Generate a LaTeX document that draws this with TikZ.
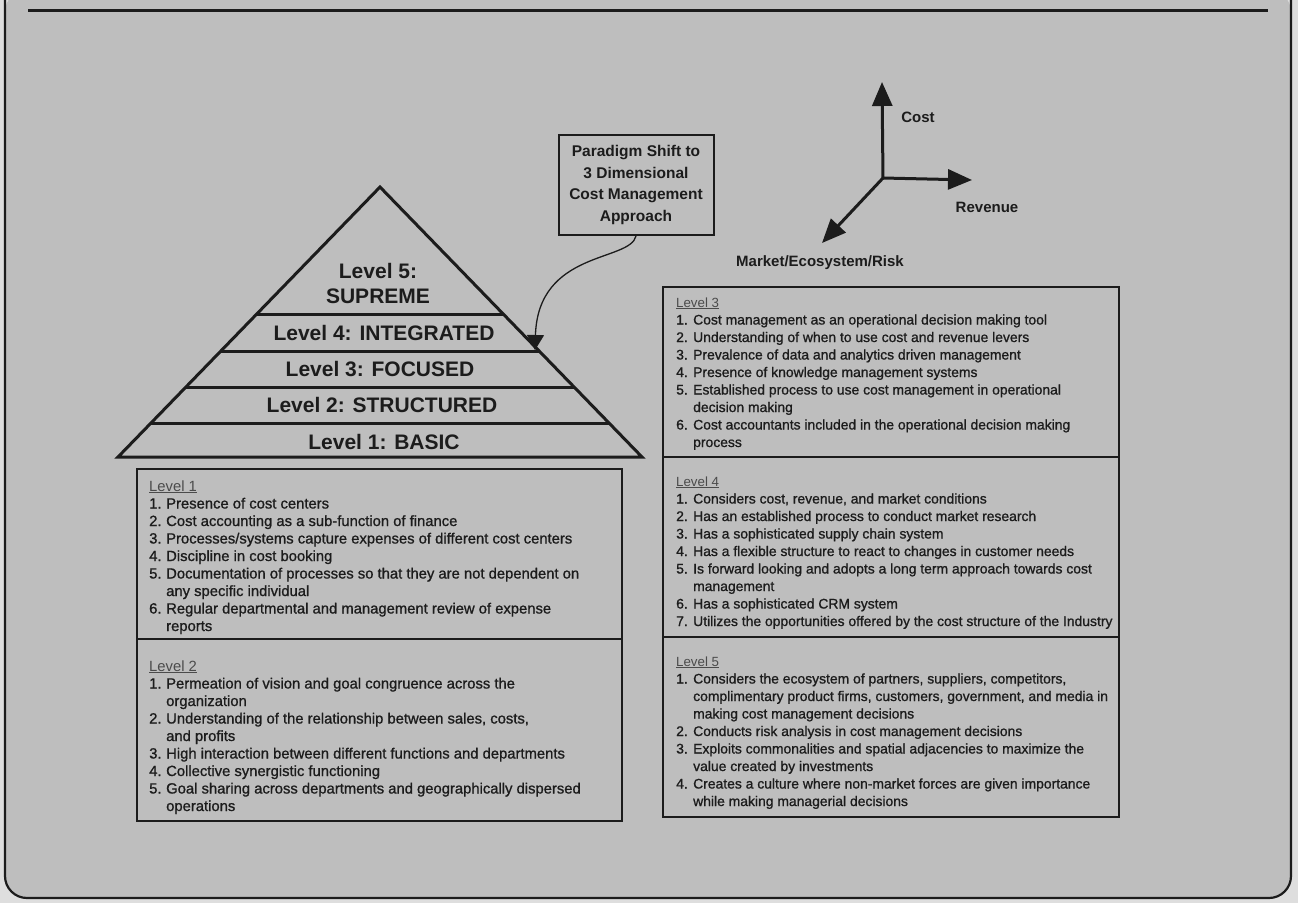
\documentclass[tikz,border=0pt]{standalone}
\usepackage{fontspec}
\setmainfont{Liberation Sans}
\newfontfamily\itemfont{Liberation Sans}[FakeBold=1.0]
\usetikzlibrary{arrows.meta,calc}
\definecolor{paper}{RGB}{222,222,222}
\definecolor{bg}{RGB}{190,190,190}
\definecolor{ink}{RGB}{28,28,28}
\definecolor{titleink}{RGB}{75,75,75}
\newcommand{\lvltitle}[1]{\noindent{\normalfont\fontsize{\ttlsize}{17.5}\selectfont\color{titleink}\underline{#1}}\par}
\newcommand{\litem}[2]{\noindent\hangindent=17pt\hangafter=1\makebox[17pt][l]{#1}#2\par}
\newcommand{\ttlsize}{14}
\newenvironment{lvlist}[2]{\begin{minipage}[t]{470pt}\renewcommand{\ttlsize}{#2}\itemfont\fontsize{#1}{17.5}\selectfont\rightskip=0pt plus 1fil\parfillskip=0pt plus 1fil}{\end{minipage}}
\begin{document}
\begin{tikzpicture}[x=1pt,y=-1pt,
  pyrtext/.style={font=\fontsize{21}{25}\selectfont\bfseries, text=ink, align=center, inner sep=0pt},
  lst/.style={anchor=base west, inner sep=0pt, text=ink},
  boxline/.style={draw=ink, line width=2pt},
  pyrline/.style={draw=ink, line width=3pt},
  axis/.style={draw=ink, line width=3pt, -{Triangle[length=24pt,width=20pt]}},
  axlabel/.style={font=\fontsize{15}{18}\selectfont\bfseries, text=ink, inner sep=0pt}]
\useasboundingbox (0,0) rectangle (1298,903);
\fill[paper] (0,0) rectangle (1298,903);
% frame
\fill[bg, rounded corners=22pt] (5,-10) -- (5,898) -- (1291,898) -- (1291,-10) -- cycle;
\draw[ink, line width=2.2pt, rounded corners=22pt] (5,-10) -- (5,898) -- (1291,898) -- (1291,-10);
\draw[ink, line width=3pt] (28,10) -- (1268,10);

% pyramid
\coordinate (apex) at (380,187);
\coordinate (bl) at (118,457);
\coordinate (br) at (642,457);
\draw[pyrline, line join=miter] (apex) -- (bl) -- (br) -- cycle;
\foreach \t in {0.4704,0.6074,0.7407,0.8741}{
  \draw[pyrline] ($(apex)!\t!(bl)$) -- ($(apex)!\t!(br)$);
}
\node[pyrtext] (p5) at (378,283) {Level 5:\\SUPREME};
\node[pyrtext] (p4) at (384,333) {Level 4: INTEGRATED};
\node[pyrtext] (p3) at (380,369) {Level 3: FOCUSED};
\node[pyrtext] (p2) at (382,405) {Level 2: STRUCTURED};
\node[pyrtext] (p1) at (384,442) {Level 1: BASIC};

% paradigm box and arrow
\node[boxline, fill=bg, minimum width=155pt, minimum height=100pt, align=center,
      font=\fontsize{15.5}{21.5}\selectfont\bfseries, text=ink, inner sep=0pt] (para) at (636,185)
  {Paradigm Shift to\\3 Dimensional\\Cost Management\\Approach};
\coordinate (ptip) at (535,350);
\draw[ink, line width=1.3pt, -{Triangle[length=15pt,width=17pt]}]
  (para.south) .. controls (630,262) and (538,250) .. (ptip);

% axes
\coordinate (O) at (883,178);
\coordinate (up) at (882,82);
\coordinate (rt) at (972,180);
\coordinate (dl) at (822,243);
\draw[axis] (O) -- (up);
\draw[axis] (O) -- (rt);
\draw[axis] (O) -- (dl);
\node[axlabel] (lcost) at (918,117) {Cost};
\node[axlabel] (lrev) at (987,207) {Revenue};
\node[axlabel] (lmkt) at (820,263) {Market/Ecosystem/Risk};

% left box
\draw[boxline] (137,469) rectangle (622,821);
\draw[boxline] (137,639) -- (622,639);
\node[lst] (l1) at (149,491) {\begin{lvlist}{14.8}{14.8}
\lvltitle{Level 1}
\litem{1.}{Presence of cost centers}
\litem{2.}{Cost accounting as a sub-function of finance}
\litem{3.}{Processes/systems capture expenses of different cost centers}
\litem{4.}{Discipline in cost booking}
\litem{5.}{Documentation of processes so that they are not dependent on\\any specific individual}
\litem{6.}{Regular departmental and management review of expense\\reports}
\end{lvlist}};
\node[lst] (l2) at (149,671) {\begin{lvlist}{14.8}{14.8}
\lvltitle{Level 2}
\litem{1.}{Permeation of vision and goal congruence across the\\organization}
\litem{2.}{Understanding of the relationship between sales, costs,\\and profits}
\litem{3.}{High interaction between different functions and departments}
\litem{4.}{Collective synergistic functioning}
\litem{5.}{Goal sharing across departments and geographically dispersed\\operations}
\end{lvlist}};

% right box
\draw[boxline] (663,287) rectangle (1119,817);
\draw[boxline] (663,457) -- (1119,457);
\draw[boxline] (663,637) -- (1119,637);
\node[lst] (l3) at (676,307) {\begin{lvlist}{13.9}{13.3}
\lvltitle{Level 3}
\litem{1.}{Cost management as an operational decision making tool}
\litem{2.}{Understanding of when to use cost and revenue levers}
\litem{3.}{Prevalence of data and analytics driven management}
\litem{4.}{Presence of knowledge management systems}
\litem{5.}{Established process to use cost management in operational\\decision making}
\litem{6.}{Cost accountants included in the operational decision making\\process}
\end{lvlist}};
\node[lst] (l4) at (676,486) {\begin{lvlist}{13.9}{13.3}
\lvltitle{Level 4}
\litem{1.}{Considers cost, revenue, and market conditions}
\litem{2.}{Has an established process to conduct market research}
\litem{3.}{Has a sophisticated supply chain system}
\litem{4.}{Has a flexible structure to react to changes in customer needs}
\litem{5.}{Is forward looking and adopts a long term approach towards cost\\management}
\litem{6.}{Has a sophisticated CRM system}
\litem{7.}{Utilizes the opportunities offered by the cost structure of the Industry}
\end{lvlist}};
\node[lst] (l5) at (676,666) {\begin{lvlist}{13.9}{13.3}
\lvltitle{Level 5}
\litem{1.}{Considers the ecosystem of partners, suppliers, competitors,\\complimentary product firms, customers, government, and media in\\making cost management decisions}
\litem{2.}{Conducts risk analysis in cost management decisions}
\litem{3.}{Exploits commonalities and spatial adjacencies to maximize the\\value created by investments}
\litem{4.}{Creates a culture where non-market forces are given importance\\while making managerial decisions}
\end{lvlist}};
\end{tikzpicture}
\end{document}
